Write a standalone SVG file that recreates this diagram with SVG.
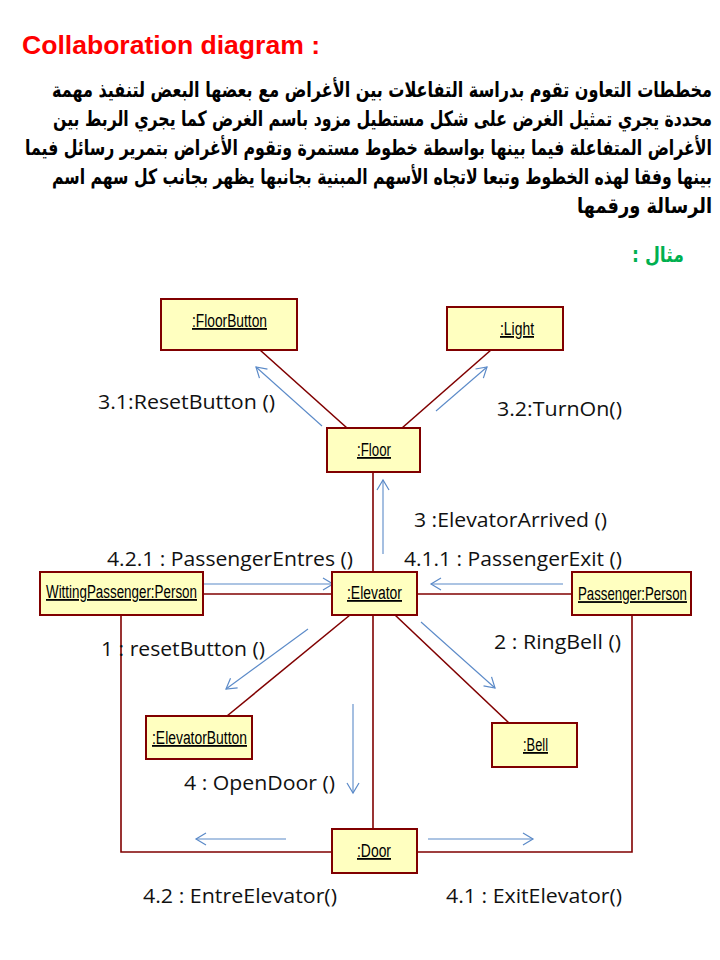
<svg xmlns="http://www.w3.org/2000/svg" width="720" height="960" viewBox="0 0 720 960">
  <style>
    .title { font-family: "Liberation Sans", Arial, sans-serif; font-weight: bold; font-size: 25px; fill: #ff0000; }
    .ar { font-family: "DejaVu Sans", "Noto Sans", sans-serif; font-weight: bold; font-size: 21px; fill: #000000; }
    .ex { font-family: "DejaVu Sans", "Noto Sans", sans-serif; font-weight: bold; font-size: 21px; fill: #00b050; }
    .box { fill: #ffffc0; stroke: #800000; stroke-width: 2; }
    .name { font-family: "Liberation Sans", Arial, sans-serif; font-size: 18px; fill: #000000; text-decoration: underline; }
    .link { fill: none; stroke: #800000; stroke-width: 1.6; }
    .msg { fill: none; stroke: #5b8ac8; stroke-width: 1.1; marker-end: url(#open); }
    .lbl { font-family: "Open Sans", "Noto Sans", sans-serif; font-size: 20px; fill: #111111; }
  </style>
  <defs>
    <marker id="open" viewBox="-12 -8 14 16" refX="0" refY="0" markerWidth="14" markerHeight="16" markerUnits="userSpaceOnUse" orient="auto">
      <path d="M-10,-6 L0,0 L-10,6" fill="none" stroke="#5b8ac8" stroke-width="1.2"/>
    </marker>
  </defs>

  <rect width="720" height="960" fill="#ffffff"/>

  <!-- heading -->
  <text class="title" x="22" y="54" textLength="298" lengthAdjust="spacingAndGlyphs">Collaboration diagram :</text>

  <!-- right-aligned Arabic description, glyphs narrowed horizontally -->
  <g direction="rtl" transform="translate(712 0) scale(0.72 1)">
    <text class="ar" x="0" y="97" textLength="916.7" lengthAdjust="spacingAndGlyphs">مخططات التعاون تقوم بدراسة التفاعلات بين الأغراض مع بعضها البعض لتنفيذ مهمة</text>
    <text class="ar" x="0" y="126" textLength="915.3" lengthAdjust="spacingAndGlyphs">محددة يجري تمثيل الغرض على شكل مستطيل مزود باسم الغرض كما يجري الربط بين</text>
    <text class="ar" x="0" y="155" textLength="954.2" lengthAdjust="spacingAndGlyphs">الأغراض المتفاعلة فيما بينها بواسطة خطوط مستمرة وتقوم الأغراض بتمرير رسائل فيما</text>
    <text class="ar" x="0" y="184" textLength="916.7" lengthAdjust="spacingAndGlyphs">بينها وفقا لهذه الخطوط  وتبعا لاتجاه الأسهم المبنية بجانبها يظهر بجانب كل سهم اسم</text>
    <text class="ar" x="0" y="213" textLength="187.5" lengthAdjust="spacingAndGlyphs">الرسالة ورقمها</text>
    <text class="ex" x="-38.9" y="262" textLength="72.2" lengthAdjust="spacingAndGlyphs">مثال :</text>
  </g>

  <!-- links between objects -->
  <g id="links">
    <line class="link" x1="260" y1="350" x2="347" y2="428"/>
    <line class="link" x1="491" y1="350" x2="402" y2="428"/>
    <line class="link" x1="373" y1="472" x2="373" y2="572"/>
    <line class="link" x1="203" y1="594" x2="332" y2="594"/>
    <line class="link" x1="417" y1="594" x2="572" y2="594"/>
    <line class="link" x1="350" y1="615" x2="227" y2="716"/>
    <line class="link" x1="395" y1="615" x2="509" y2="723"/>
    <line class="link" x1="373" y1="615" x2="373" y2="829"/>
    <polyline class="link" points="121,615 121,852 332,852"/>
    <polyline class="link" points="632,615 632,852 417,852"/>
  </g>

  <!-- messages -->
  <g id="messages">
    <line class="msg" x1="322" y1="426" x2="256" y2="367"/>
    <line class="msg" x1="436" y1="411" x2="487" y2="367"/>
    <line class="msg" x1="383" y1="554" x2="383" y2="480"/>
    <line class="msg" x1="204" y1="584" x2="333" y2="584"/>
    <line class="msg" x1="563" y1="584" x2="431" y2="584"/>
    <line class="msg" x1="308" y1="629" x2="226" y2="689"/>
    <line class="msg" x1="421" y1="622" x2="495" y2="688"/>
    <line class="msg" x1="353" y1="704" x2="353" y2="793"/>
    <line class="msg" x1="286" y1="839" x2="196" y2="839"/>
    <line class="msg" x1="428" y1="839" x2="533" y2="839"/>

    <text class="lbl" x="98" y="409" textLength="177" lengthAdjust="spacingAndGlyphs">3.1:ResetButton ()</text>
    <text class="lbl" x="497" y="416" textLength="125" lengthAdjust="spacingAndGlyphs">3.2:TurnOn()</text>
    <text class="lbl" x="414" y="527" textLength="193" lengthAdjust="spacingAndGlyphs">3 :ElevatorArrived ()</text>
    <text class="lbl" x="107" y="566" textLength="246" lengthAdjust="spacingAndGlyphs">4.2.1 : PassengerEntres ()</text>
    <text class="lbl" x="404" y="566" textLength="218" lengthAdjust="spacingAndGlyphs">4.1.1 : PassengerExit ()</text>
    <text class="lbl" x="101" y="656" textLength="164" lengthAdjust="spacingAndGlyphs">1 : resetButton ()</text>
    <text class="lbl" x="494" y="649" textLength="127" lengthAdjust="spacingAndGlyphs">2 : RingBell ()</text>
    <text class="lbl" x="184" y="790" textLength="151" lengthAdjust="spacingAndGlyphs">4 : OpenDoor ()</text>
    <text class="lbl" x="143" y="903" textLength="194" lengthAdjust="spacingAndGlyphs">4.2 : EntreElevator()</text>
    <text class="lbl" x="446" y="903" textLength="176" lengthAdjust="spacingAndGlyphs">4.1 : ExitElevator()</text>
  </g>

  <!-- objects -->
  <g id="floorButton">
    <rect class="box" x="161" y="299" width="136" height="51"/>
    <text class="name" x="192" y="327" textLength="75" lengthAdjust="spacingAndGlyphs">:FloorButton</text>
  </g>
  <g id="light">
    <rect class="box" x="447" y="307" width="116" height="43"/>
    <text class="name" x="500" y="335" textLength="34" lengthAdjust="spacingAndGlyphs">:Light</text>
  </g>
  <g id="floor">
    <rect class="box" x="327" y="428" width="93" height="44"/>
    <text class="name" x="357" y="456" textLength="34" lengthAdjust="spacingAndGlyphs">:Floor</text>
  </g>
  <g id="wittingPassenger">
    <rect class="box" x="40" y="572" width="163" height="43"/>
    <text class="name" x="46" y="598" textLength="151" lengthAdjust="spacingAndGlyphs">WittingPassenger:Person</text>
  </g>
  <g id="elevator">
    <rect class="box" x="332" y="572" width="85" height="43"/>
    <text class="name" x="347" y="599" textLength="55" lengthAdjust="spacingAndGlyphs">:Elevator</text>
  </g>
  <g id="passenger">
    <rect class="box" x="572" y="572" width="119" height="43"/>
    <!-- condensed label -->
    <text class="name" transform="translate(578 600) scale(0.75 1)" x="0" y="0" textLength="145.3" lengthAdjust="spacingAndGlyphs">Passenger:Person</text>
  </g>
  <g id="elevatorButton">
    <rect class="box" x="146" y="716" width="106" height="43"/>
    <text class="name" x="152" y="744" textLength="95" lengthAdjust="spacingAndGlyphs">:ElevatorButton</text>
  </g>
  <g id="bell">
    <rect class="box" x="492" y="723" width="85" height="44"/>
    <text class="name" x="523" y="751" textLength="25" lengthAdjust="spacingAndGlyphs">:Bell</text>
  </g>
  <g id="door">
    <rect class="box" x="332" y="829" width="85" height="44"/>
    <text class="name" x="357" y="857" textLength="34" lengthAdjust="spacingAndGlyphs">:Door</text>
  </g>
</svg>
